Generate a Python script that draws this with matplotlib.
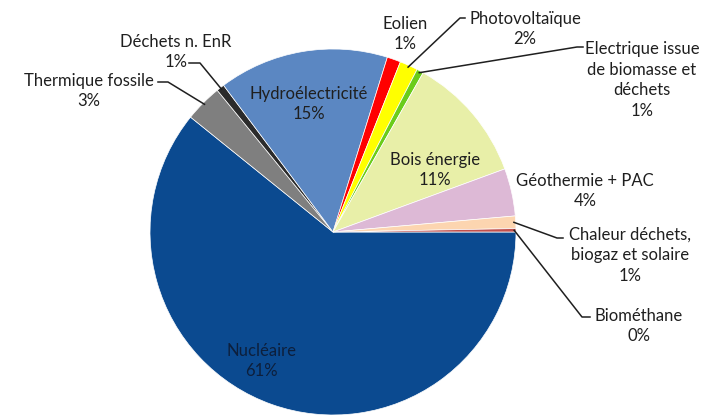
import matplotlib.pyplot as plt
import numpy as np

# Parts of the energy mix (%), clockwise from 3 o'clock
sources = ['Nucléaire', 'Thermique fossile', 'Déchets n. EnR', 'Hydroélectricité',
           'Eolien', 'Photovoltaïque', 'Electrique issue\nde biomasse et\ndéchets',
           'Bois énergie', 'Géothermie + PAC', 'Chaleur déchets,\nbiogaz et solaire',
           'Biométhane']
shares = [60.8, 3.3, 0.7, 15.0, 1.2, 1.6, 0.6, 11.2, 4.2, 1.1, 0.3]
shown_pct = ['61%', '3%', '1%', '15%', '1%', '2%', '1%', '11%', '4%', '1%', '0%']
colors = ['#0b4a90', '#7f7f7f', '#2b2b2b', '#5b87c2', '#ff0000', '#ffff00',
          '#6acc1a', '#e8efa8', '#ddb9d6', '#fcd5b0', '#c0504d']

plt.rcParams['font.family'] = ['Lato', 'DejaVu Sans']

fig = plt.figure(figsize=(7.03, 4.15), dpi=100)
ax = fig.add_axes([0, 0, 1, 1])

cx, cy, R = 333, 232, 183
wedges, _ = ax.pie(shares, colors=colors, startangle=0, counterclock=True,
                   center=(cx, cy), radius=R,
                   wedgeprops=dict(edgecolor='white', linewidth=0.5))
# y axis runs downward (pixel-like), so counterclockwise data angles draw clockwise
ax.set_xlim(0, 703)
ax.set_ylim(415, 0)
ax.set_aspect('equal')
ax.axis('off')

# label block centres and optional leader elbows (layout only)
label_pos = [(261, 361), (89, 91), (176, 52), (309, 104), (405, 34), (525, 29),
             (642, 80), (435, 170), (585, 191), (630, 255), (639, 326)]
leaders = {1: [(158, 82), (168, 82)],
           2: [(189, 63), (200, 63)],
           5: [(465, 18), (460, 18)],
           6: [(583, 47), (577, 47)],
           9: [(563, 238), (557, 238)],
           10: [(590, 317), (582, 317)]}

for i, w in enumerate(wedges):
    x, y = label_pos[i]
    col = '#0d1f3c' if i == 0 else '#1f1f1f'
    ax.text(x, y, sources[i] + '\n' + shown_pct[i], ha='center', va='center',
            fontsize=12, color=col, linespacing=1.35)
    if i in leaders:
        mid = np.deg2rad((w.theta1 + w.theta2) / 2)
        ex, ey = cx + R * 0.99 * np.cos(mid), cy + R * 0.99 * np.sin(mid)
        pts = leaders[i] + [(ex, ey)]
        ax.plot([p[0] for p in pts], [p[1] for p in pts], color='#1f1f1f', lw=1.1)

fig.savefig('out.png', dpi=100)
